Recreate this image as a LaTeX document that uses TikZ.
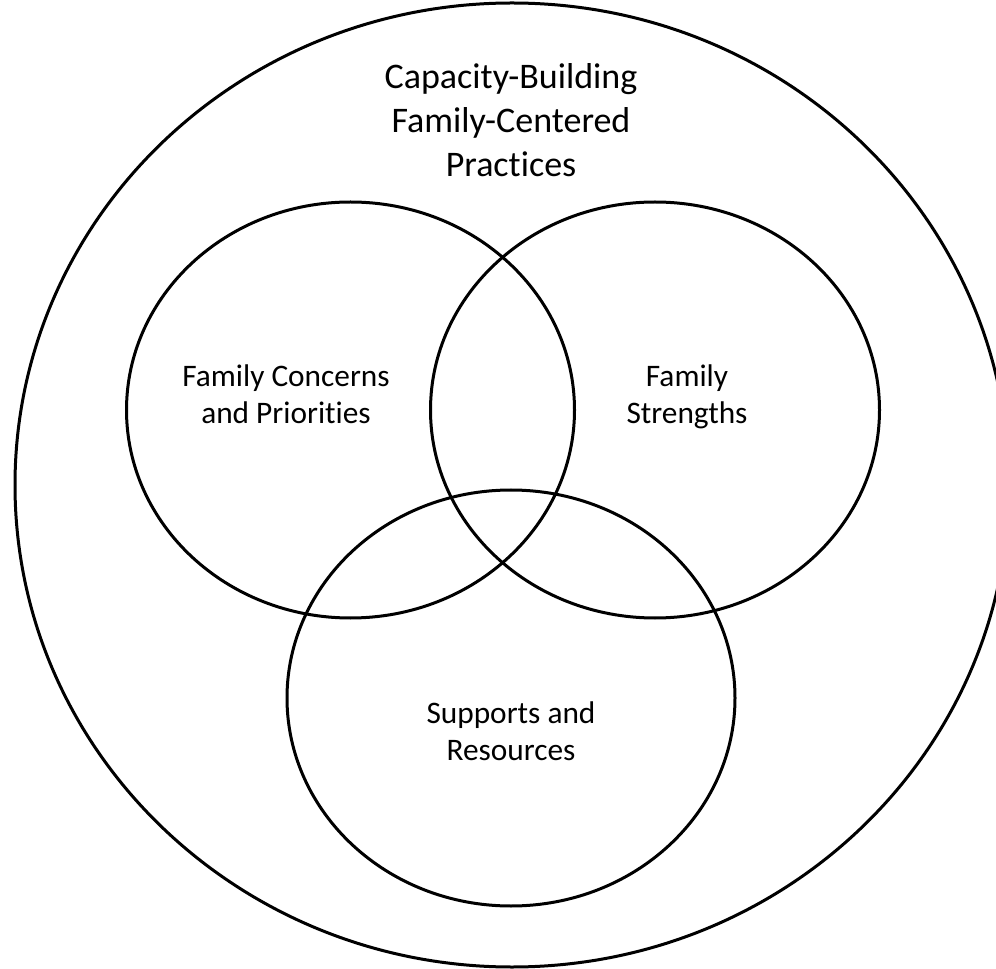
\documentclass[tikz,border=0pt]{standalone}
\usepackage{fontspec}
\setmainfont{Carlito}[Ligatures=NoCommon]
\begin{document}
\begin{tikzpicture}[x=0.75pt,y=-0.75pt,
  ring/.style={draw=black, line width=2.25pt},
  lbl/.style={align=center, inner sep=0pt, font=\fontsize{23.5}{28}\selectfont},
  ttl/.style={align=center, inner sep=0pt, font=\fontsize{27}{33}\selectfont}]
\useasboundingbox (0,0) rectangle (996,969);
\clip (0,0) rectangle (996,969);
\draw[ring] (512,485) ellipse [x radius=497, y radius=482];
\draw[ring] (350.5,410) ellipse [x radius=224, y radius=208];
\draw[ring] (655,410) ellipse [x radius=224.5, y radius=208];
\draw[ring] (511,698) ellipse [x radius=224, y radius=208];
\node[ttl, anchor=base] (title) at (511,176.7) {Capacity-Building\\Family-Centered\\Practices};
\node[lbl, anchor=base] (conc) at (286,423.5) {Family Concerns\\and Priorities};
\node[lbl, anchor=base] (strg) at (687,423.5) {Family\\Strengths};
\node[lbl, anchor=base] (supp) at (511,760.7) {Supports and\\Resources};
\end{tikzpicture}
\end{document}
